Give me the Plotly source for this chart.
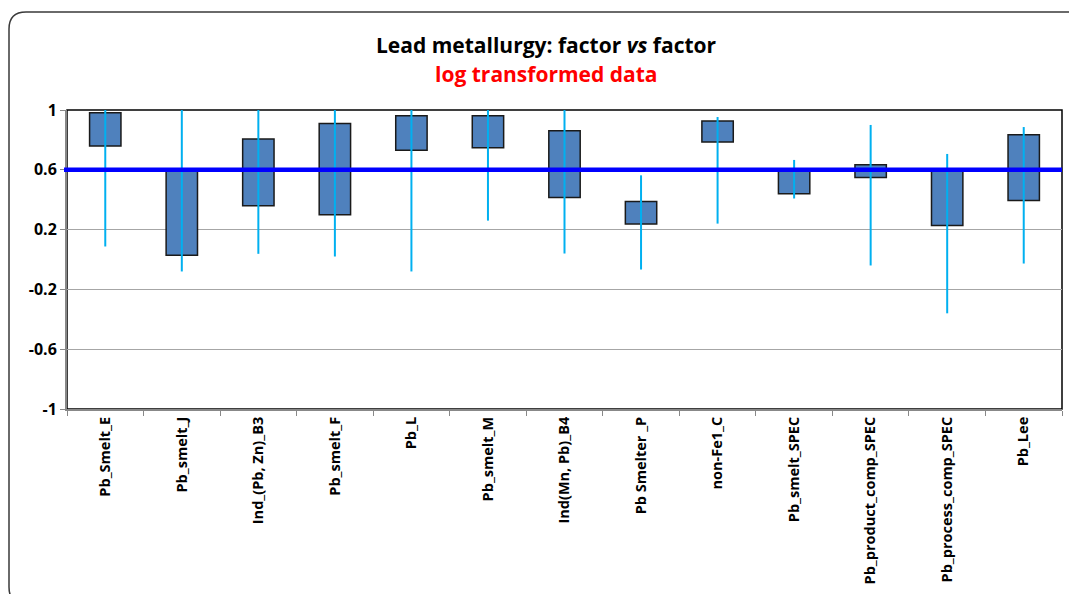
import plotly.graph_objects as go

categories = ["Pb_Smelt_E", "Pb_smelt_J", "Ind_(Pb, Zn)_B3", "Pb_smelt_F", "Pb_L",
              "Pb_smelt_M", "Ind(Mn, Pb)_B4", "Pb Smelter _P", "non-Fe1_C",
              "Pb_smelt_SPEC", "Pb_product_comp_SPEC", "Pb_process_comp_SPEC", "Pb_Lee"]
box_top = [0.982, 0.60, 0.806, 0.909, 0.962, 0.962, 0.862, 0.388, 0.927, 0.60, 0.633, 0.60, 0.835]
box_bottom = [0.760, 0.029, 0.359, 0.300, 0.730, 0.748, 0.414, 0.238, 0.786, 0.439, 0.548, 0.227, 0.394]
whisker_high = [1.0, 1.0, 1.0, 1.0, 1.0, 1.0, 1.0, 0.563, 0.953, 0.666, 0.900, 0.706, 0.886]
whisker_low = [0.087, -0.080, 0.038, 0.020, -0.080, 0.260, 0.040, -0.067, 0.240, 0.408, -0.040, -0.360, -0.027]
threshold = 0.6
y_ticks = [-1, -0.6, -0.2, 0.2, 0.6, 1]
y_tick_labels = ["-1", "-0.6", "-0.2", "0.2", "0.6", "1"]
title_text = "Lead metallurgy: factor <i>vs</i> factor"
subtitle_text = "log transformed data"

FONT = "Open Sans, Arial, sans-serif"

wx, wy = [], []
for c, lo, hi in zip(categories, whisker_low, whisker_high):
    wx += [c, c, None]
    wy += [lo, hi, None]

fig = go.Figure()
fig.add_trace(go.Scatter(x=wx, y=wy, mode="lines",
                         line=dict(color="#00B0F0", width=2),
                         hoverinfo="skip", showlegend=False, cliponaxis=False))
fig.add_trace(go.Bar(x=categories,
                     y=[t - b for t, b in zip(box_top, box_bottom)],
                     base=box_bottom, width=0.41,
                     marker=dict(color="#4F81BD", line=dict(color="#1a1a1a", width=1.5)),
                     showlegend=False))

# plot-area coordinates (pixels)
L, R, T, B = 67, 1062, 110, 409
def px(x):
    return (x - L) / (R - L)
def py(y):
    return (B - y) / (B - T)
x0, y0, x1, y1, r = 9, 12, 1080, 604, 17
path = (f"M {px(x1)},{py(y0)} L {px(x0 + r)},{py(y0)} "
        f"Q {px(x0)},{py(y0)} {px(x0)},{py(y0 + r)} "
        f"L {px(x0)},{py(y1 - r)} Q {px(x0)},{py(y1)} {px(x0 + r)},{py(y1)}")

fig.update_layout(
    width=1069, height=594,
    margin=dict(l=L, r=1069 - R, t=T, b=594 - B),
    paper_bgcolor="white", plot_bgcolor="white",
    xaxis=dict(
        type="category", range=[-0.5, len(categories) - 0.5],
        tickvals=categories, ticktext=[f"<b>{c}</b>" for c in categories],
        tickangle=-90, tickfont=dict(family=FONT, size=14.5, color="black"),
        tickson="boundaries", ticks="outside", ticklen=5, tickcolor="#888888",
        showline=True, linecolor="#888888", linewidth=2,
        showgrid=False, zeroline=False, automargin=False,
    ),
    yaxis=dict(
        range=[-1, 1], tickvals=y_ticks, ticktext=[f"<b>{t}</b>" for t in y_tick_labels],
        tickfont=dict(family=FONT, size=16, color="black"),
        ticks="outside", ticklen=5, tickcolor="#888888",
        showline=True, linecolor="#888888", linewidth=2,
        showgrid=True, gridcolor="#A6A6A6", gridwidth=1,
        zeroline=False, automargin=False,
    ),
    annotations=[
        dict(text=f"<b>{title_text}</b>", xref="paper", yref="paper",
             x=px(546), y=py(45), xanchor="center", yanchor="middle", showarrow=False,
             font=dict(family=FONT, size=21, color="black")),
        dict(text=f"<b>{subtitle_text}</b>", xref="paper", yref="paper",
             x=px(546), y=py(74), xanchor="center", yanchor="middle", showarrow=False,
             font=dict(family=FONT, size=21, color="#FF0000")),
    ],
    shapes=[
        dict(type="rect", xref="paper", yref="paper", x0=0, x1=1, y0=0, y1=1,
             line=dict(color="black", width=1.5), layer="below"),
        dict(type="line", xref="paper", yref="y", x0=-0.003, x1=1,
             y0=threshold, y1=threshold, line=dict(color="#0000FF", width=4.5),
             layer="above"),
        dict(type="path", xref="paper", yref="paper", path=path,
             line=dict(color="#3a3a3a", width=1.5), layer="above"),
    ],
)

fig.write_html("out.html", config={"displayModeBar": False},
               post_script="document.body.style.margin='0';document.body.style.overflow='hidden';")
